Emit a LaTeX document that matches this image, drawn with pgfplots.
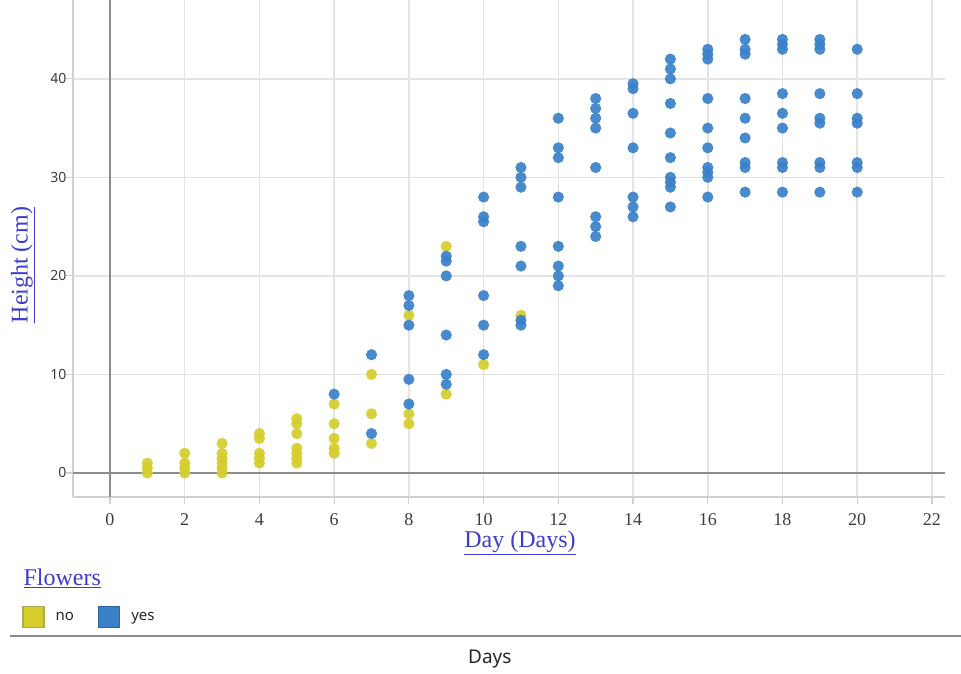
\documentclass[border=0pt]{standalone}
\usepackage{pgfplots}
\pgfplotsset{compat=1.18}
\usepackage{fontspec}
\setmainfont{Liberation Serif}
\newfontfamily\sansf{Noto Sans}
\definecolor{yelc}{RGB}{212,205,44}
\definecolor{yelb}{RGB}{170,170,90}
\definecolor{bluc}{RGB}{58,128,200}
\definecolor{linkc}{RGB}{60,60,205}
\definecolor{gridc}{RGB}{228,228,228}
\definecolor{zeroc}{RGB}{140,140,140}
\definecolor{tickc}{RGB}{60,60,60}
\begin{document}
\begin{tikzpicture}
\useasboundingbox (-73pt,-176pt) rectangle (888pt,497pt);
\begin{axis}[
  scale only axis,
  width=872pt, height=497pt,
  xmin=-0.99, xmax=22.35,
  ymin=-2.44, ymax=48.0,
  xtick={0,2,...,22},
  ytick={0,10,20,30,40},
  grid=major,
  major grid style={gridc, line width=1.5pt},
  axis x line*=bottom,
  axis y line*=left,
  axis line style={gridc!80!gray, line width=1.8pt, -},
  tick align=outside,
  major tick length=7pt,
  tick style={gridc!80!gray, line width=1.2pt},
  /pgf/number format/assume math mode=true,
  xticklabel style={font=\fontsize{18}{18}\selectfont, text=tickc, yshift=-6pt},
  yticklabel style={font=\sansf\fontsize{14}{14}\selectfont, text=tickc, xshift=4pt},
  xlabel={\underline{Day (Days)}},
  xlabel style={at={(axis description cs:0.5126,-0.0926)}, anchor=center, font=\fontsize{24}{24}\selectfont, text=linkc},
  ylabel={\underline{Height (cm)}},
  ylabel style={at={(axis description cs:-0.0575,0.4668)}, anchor=center, font=\fontsize{24}{24}\selectfont, text=linkc},
  clip=false,
  legend columns=2,
  legend style={at={(axis description cs:-0.0585,-0.2414)}, anchor=west, draw=none, fill=none,
    font=\sansf\fontsize{15}{15}\selectfont, text=black!85, inner sep=0pt,
    /tikz/every odd column/.append style={column sep=9pt},
    /tikz/every even column/.append style={column sep=22pt}},
]
\draw[zeroc, line width=2.6pt] (axis cs:-0.99,0) -- (axis cs:22.35,0);
\draw[zeroc, line width=2.6pt] (axis cs:0,-2.44) -- (axis cs:0,48);
\addplot[only marks, mark=*, mark size=5.6pt, draw opacity=0, mark options={draw opacity=0, fill=yelc, fill opacity=0.92}, forget plot] table {
x y
1 0
1 0.5
1 1
2 0
2 0.5
2 1
2 2
3 0
3 0.5
3 1
3 1.5
3 2
3 3
4 1
4 1.5
4 2
4 3.5
4 4
5 1
5 1.5
5 2
5 2.5
5 4
5 5
5 5.5
6 2
6 2.5
6 3.5
6 5
6 7
7 3
7 6
7 10
8 5
8 6
8 16
9 8
9 23
10 11
11 16
};
\addplot[only marks, mark=*, mark size=5.6pt, draw opacity=0, mark options={draw opacity=0, fill=bluc, fill opacity=0.92}, forget plot] table {
x y
6 8
7 4
7 12
8 7
8 9.5
8 15
8 17
8 18
9 9
9 10
9 14
9 20
9 21.5
9 22
10 12
10 15
10 18
10 25.5
10 26
10 28
11 15
11 15.5
11 21
11 23
11 29
11 30
11 31
12 19
12 20
12 21
12 23
12 28
12 32
12 33
12 36
13 24
13 25
13 26
13 31
13 35
13 36
13 37
13 38
14 26
14 27
14 28
14 33
14 36.5
14 39
14 39.5
15 27
15 29
15 29.5
15 30
15 32
15 34.5
15 37.5
15 40
15 41
15 42
16 28
16 30
16 30.5
16 31
16 33
16 35
16 38
16 42
16 42.5
16 43
17 28.5
17 31
17 31.5
17 34
17 36
17 38
17 42.5
17 43
17 44
18 28.5
18 31
18 31.5
18 35
18 36.5
18 38.5
18 43
18 43.5
18 44
19 28.5
19 31
19 31.5
19 35.5
19 36
19 38.5
19 43
19 43.5
19 44
20 28.5
20 31
20 31.5
20 35.5
20 36
20 38.5
20 43
};
\addlegendimage{legend image code/.code={\draw[fill=yelc, draw=yelb, line width=1.4pt] (0pt,-10pt) rectangle (21pt,11pt);}}
\addlegendentry{no}
\addlegendimage{legend image code/.code={\draw[fill=bluc, draw=bluc!80!black, line width=1.4pt] (0pt,-10pt) rectangle (21pt,11pt);}}
\addlegendentry{yes}
\node[anchor=west, font=\fontsize{24}{24}\selectfont, text=linkc] at (axis description cs:-0.0608,-0.163) {\underline{Flowers}};
\draw[zeroc, line width=2.6pt] (axis description cs:-0.0722,-0.2797) -- (axis description cs:1.0183,-0.2797);
\node[anchor=center, font=\sansf\fontsize{19}{19}\selectfont, text=black!85] at (axis description cs:0.478,-0.326) {Days};
\end{axis}
\end{tikzpicture}
\end{document}
